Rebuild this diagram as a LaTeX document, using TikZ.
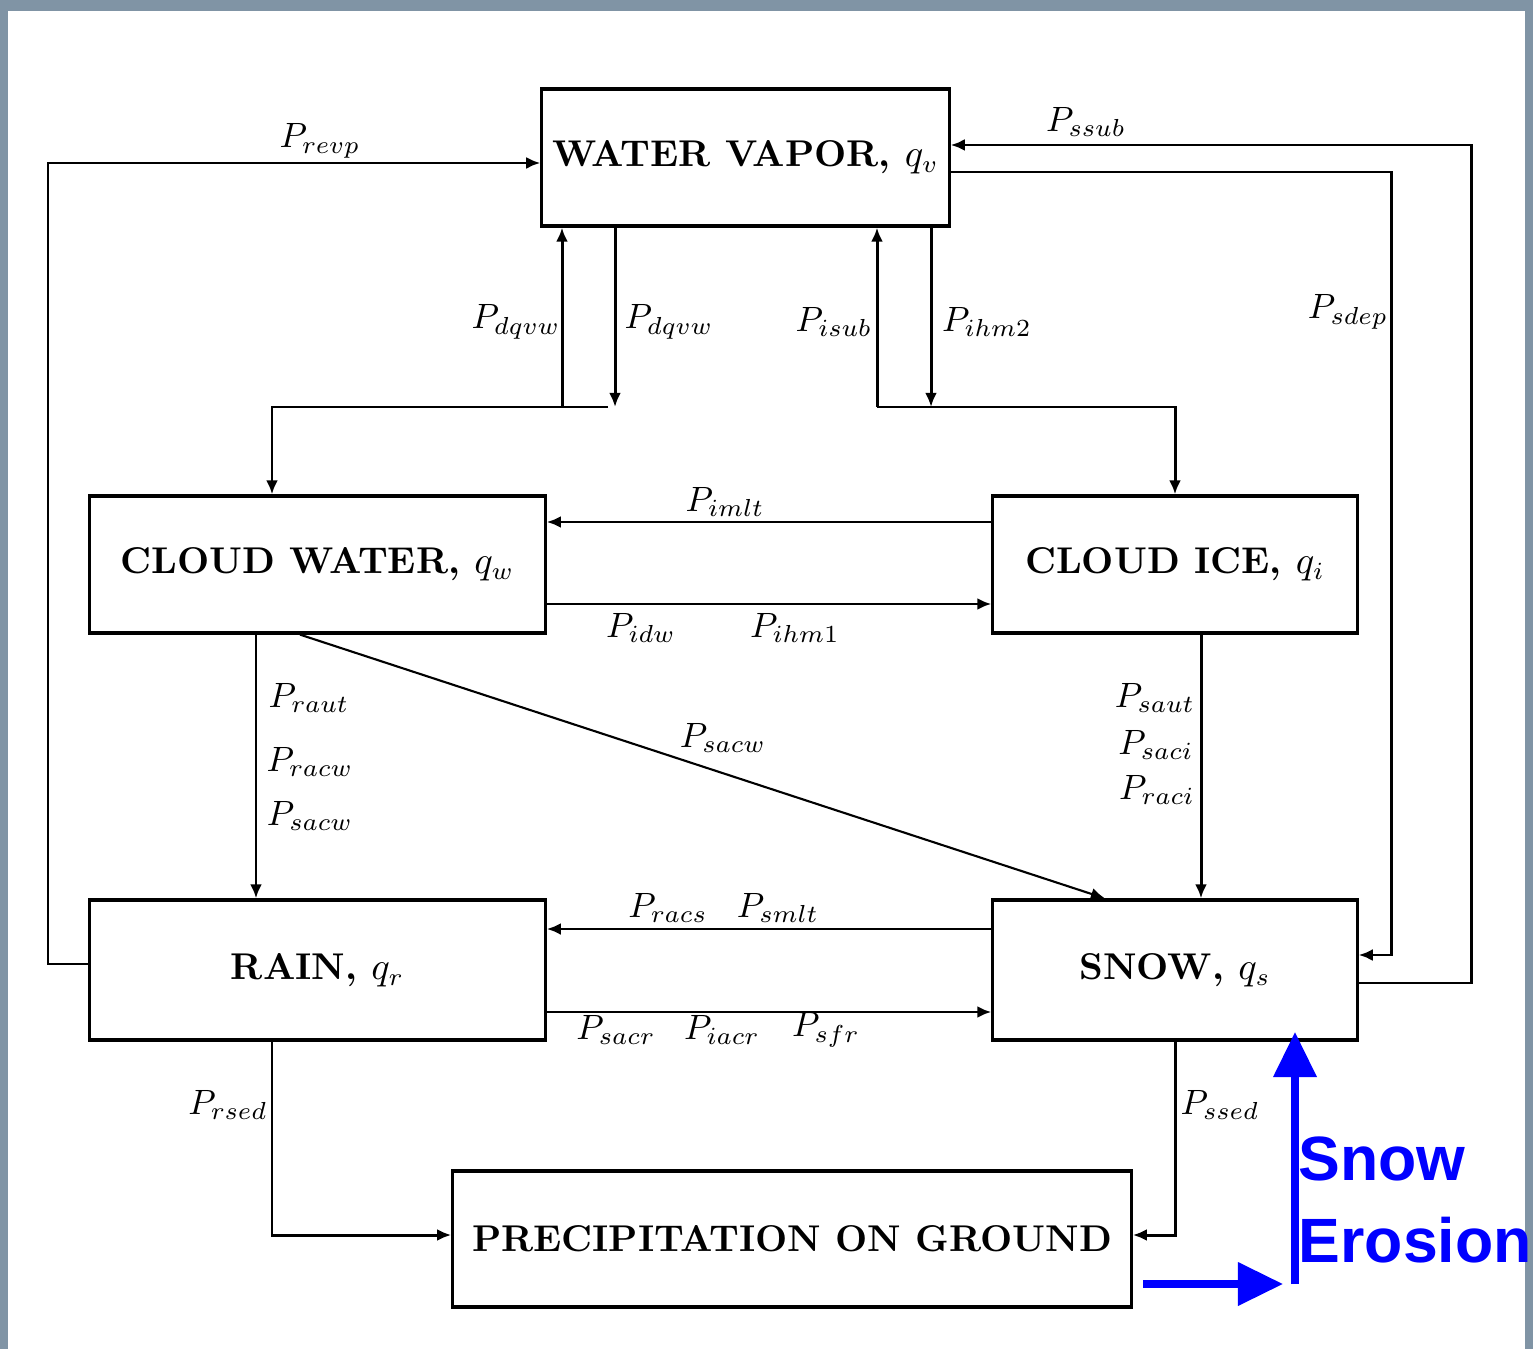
\documentclass[tikz,border=0pt]{standalone}
\usepackage{amsmath,amssymb}
\usepackage{fontspec}
\newfontfamily\erosionfont{Liberation Sans}
\usetikzlibrary{arrows.meta}

\definecolor{framegray}{RGB}{128,148,165}
\definecolor{erosionblue}{RGB}{0,0,255}

\begin{document}
\begin{tikzpicture}[x=0.01cm,y=-0.01cm,
    box/.style={draw,line width=0.9pt,inner sep=0pt,font=\fontsize{10.6}{12.7}\selectfont\bfseries},
    flow/.style={line width=0.85pt,-{Latex[length=4pt,width=3.4pt]}},
    rate/.style={inner sep=0pt},
    erosion/.style={erosionblue,line width=2pt,-{Triangle[length=0.45cm,width=0.42cm]}},
    erosiontext/.style={erosionblue,inner sep=0pt,anchor=base west,
      font=\erosionfont\bfseries\fontsize{17.8}{21}\selectfont}]

    % Background frame
    \fill[framegray] (0,0) rectangle (1533,1349);
    \fill[white] (8,11) rectangle (1525,1349);

    % Boxes
    \node[box,minimum width=4.07cm,minimum height=1.37cm] (vapor) at (745.5,157.5) {WATER VAPOR, $q_v$};
    \node[box,minimum width=4.55cm,minimum height=1.37cm] (cw) at (317.5,564.5) {CLOUD WATER, $q_w$};
    \node[box,minimum width=3.64cm,minimum height=1.37cm] (ci) at (1175,564.5) {CLOUD ICE, $q_i$};
    \node[box,minimum width=4.55cm,minimum height=1.40cm] (rain) at (317.5,970) {RAIN, $q_r$};
    \node[box,minimum width=3.64cm,minimum height=1.40cm] (snow) at (1175,970) {SNOW, $q_s$};
    \node[box,minimum width=6.78cm,minimum height=1.36cm] (ground) at (792,1239) {PRECIPITATION ON GROUND};

    % Branch points below the vapor box
    \coordinate (wup) at (562,407);
    \coordinate (wdown) at (615,407);
    \coordinate (wbar) at (608,407);
    \coordinate (iup) at (877,407);
    \coordinate (idown) at (931,407);

    % Vapor exchanges
    \draw[flow] (rain.west |- 0,964) -- (48,964) |- (vapor.west |- 0,163);
    \draw[flow] (snow.east |- 0,983) -- (1471,983) |- (vapor.east |- 0,145);
    \draw[flow] (vapor.east |- 0,172) -- (1391,172) |- (snow.east |- 0,955);

    % Vapor <-> cloud water
    \draw[flow] (wup) -- (vapor.south -| wup);
    \draw[flow] (vapor.south -| wdown) -- (wdown);
    \draw[flow] (wbar) -| (cw.north -| 272,0);

    % Vapor <-> cloud ice
    \draw[flow] (iup) -- (vapor.south -| iup);
    \draw[flow] (vapor.south -| idown) -- (idown);
    \draw[flow] (iup) -| (ci.north -| 1175,0);

    % Cloud water <-> cloud ice
    \draw[flow] (ci.west |- 0,522) -- (cw.east |- 0,522);
    \draw[flow] (cw.east |- 0,604) -- (ci.west |- 0,604);

    % Clouds to rain and snow
    \draw[flow] (cw.south -| 256,0) -- (rain.north -| 256,0);
    \draw[flow,line width=0.6pt] (cw.south -| 300,0) -- (snow.north -| 1105,0);
    \draw[flow] (ci.south -| 1201,0) -- (snow.north -| 1201,0);

    % Rain <-> snow
    \draw[flow] (snow.west |- 0,929) -- (rain.east |- 0,929);
    \draw[flow] (rain.east |- 0,1012) -- (snow.west |- 0,1012);

    % Sedimentation
    \draw[flow] (rain.south -| 272,0) |- (ground.west |- 0,1235);
    \draw[flow] (snow.south -| 1175,0) |- (ground.east |- 0,1235);

    % Rates
    \node[rate] (revp) at (320,141) {$P_{revp}$};
    \node[rate] (ssub) at (1086,122) {$P_{ssub}$};
    \node[rate] (sdep) at (1348,312) {$P_{sdep}$};
    \node[rate] (dqvwa) at (516,322) {$P_{dqvw}$};
    \node[rate] (dqvwb) at (669,322) {$P_{dqvw}$};
    \node[rate] (isub) at (834,322) {$P_{isub}$};
    \node[rate] (ihmb) at (987,322) {$P_{ihm2}$};
    \node[rate] (imlt) at (725,502) {$P_{imlt}$};
    \node[rate] (idw) at (641,628) {$P_{idw}$};
    \node[rate] (ihma) at (795,628) {$P_{ihm1}$};
    \node[rate] (raut) at (309,698) {$P_{raut}$};
    \node[rate] (racw) at (310,762) {$P_{racw}$};
    \node[rate] (sacwa) at (310,816) {$P_{sacw}$};
    \node[rate] (sacwb) at (723,738) {$P_{sacw}$};
    \node[rate] (saut) at (1155,698) {$P_{saut}$};
    \node[rate] (saci) at (1156,745) {$P_{saci}$};
    \node[rate] (raci) at (1157,790) {$P_{raci}$};
    \node[rate] (racs) at (668,908) {$P_{racs}$};
    \node[rate] (smlt) at (778,908) {$P_{smlt}$};
    \node[rate] (sacr) at (616,1030) {$P_{sacr}$};
    \node[rate] (iacr) at (722,1030) {$P_{iacr}$};
    \node[rate] (sfr) at (826,1030) {$P_{sfr}$};
    \node[rate] (rsed) at (228,1105) {$P_{rsed}$};
    \node[rate] (ssed) at (1220,1105) {$P_{ssed}$};

    % Snow erosion
    \coordinate (eh0) at (1143,1284);
    \coordinate (eh1) at (1283,1284);
    \coordinate (ev0) at (1295,1284);
    \coordinate (ev1) at (1295,1032);
    \draw[erosion] (eh0) -- (eh1);
    \draw[erosion] (ev0) -- (ev1);
    \node[erosiontext] (snowtxt) at (1298,1180) {Snow};
    \node[erosiontext] (erotxt) at (1298,1262) {Erosion};
\end{tikzpicture}
\end{document}
